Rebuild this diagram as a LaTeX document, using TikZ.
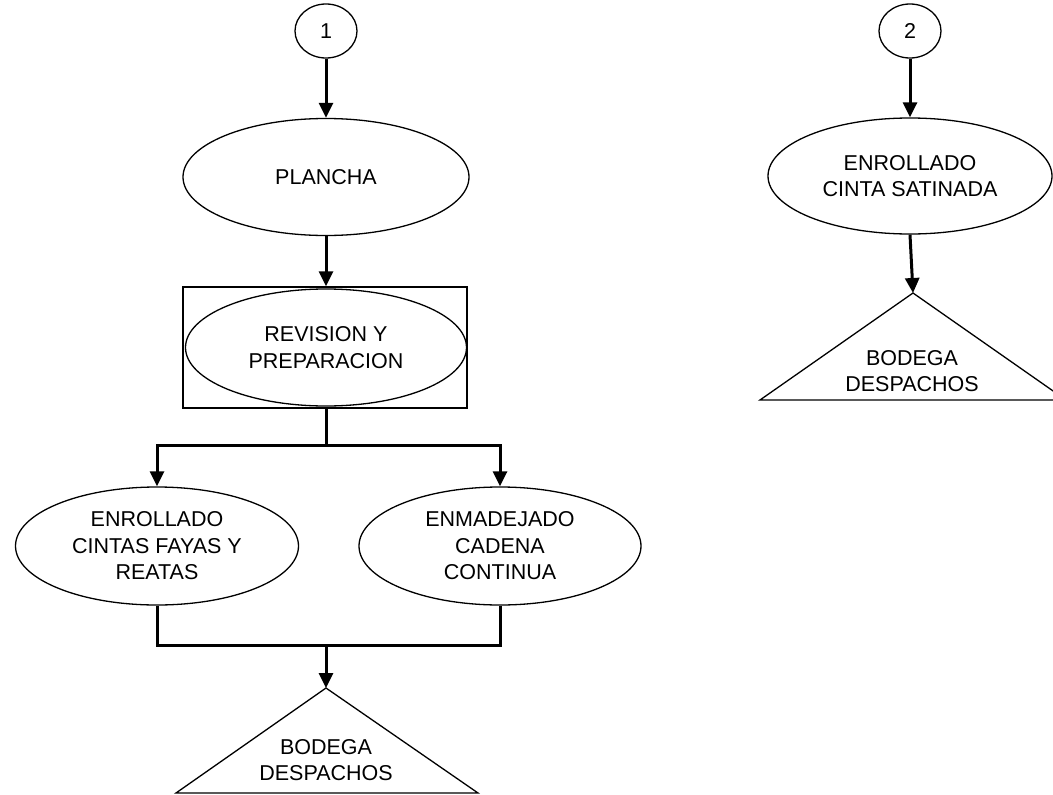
\documentclass[tikz,border=0pt]{standalone}
\usepackage{fontspec}
\setmainfont{Liberation Sans}
\usetikzlibrary{arrows.meta,shapes.geometric}
\begin{document}
\begin{tikzpicture}[x=1pt,y=-1pt,
  txt/.style={font=\fontsize{21.5}{26.5}\selectfont, align=center},
  oval/.style={draw, ellipse, line width=1.3pt, inner sep=0pt, txt},
  connector/.style={draw, ellipse, line width=1.3pt, inner sep=0pt, minimum width=62pt, minimum height=54pt, txt},
  flow/.style={line width=3pt},
  flowarrow/.style={line width=3pt, -{Triangle[length=15pt,width=14pt]}},
  outline/.style={line width=1.3pt, line join=miter}]
\useasboundingbox (0,0) rectangle (1053,795);

% ---- left branch ----
\node[connector] (c1) at (326,31) {1};
\node[oval, minimum width=286pt, minimum height=117pt] (plancha) at (326,177) {PLANCHA};
\node[draw, outline, rectangle, minimum width=284pt, minimum height=121pt, inner sep=0pt] (revbox) at (325,347.5) {};
\node[oval, minimum width=281pt, minimum height=117pt] (rev) at (326,347.5) {REVISION Y\\PREPARACION};
\node[oval, minimum width=283pt, minimum height=118pt] (enr) at (157,546) {ENROLLADO\\CINTAS FAYAS Y\\REATAS};
\node[oval, minimum width=282pt, minimum height=118pt] (enm) at (500,546) {ENMADEJADO\\CADENA\\CONTINUA};

\coordinate (split) at (326,445);
\coordinate (merge) at (326,645);
\coordinate (apex1) at (326,688);
\coordinate (base1l) at (176,793);
\coordinate (base1r) at (478,793);
\draw[outline] (apex1) -- (base1r) -- (base1l) -- cycle;
\node[txt] (bod1) at (326,760) {BODEGA\\DESPACHOS};

\draw[flowarrow] (c1.south) -- (plancha.north);
\draw[flowarrow] (plancha.south) -- (revbox.north -| plancha.south);
\draw[flow] (revbox.south -| split) -- (split);
\draw[flowarrow] ([xshift=1.5pt]split) -| (enr.north);
\draw[flowarrow] ([xshift=-1.5pt]split) -| (enm.north);
\draw[flow] (enr.south) |- ([xshift=1.5pt]merge);
\draw[flow] (enm.south) |- ([xshift=-1.5pt]merge);
\draw[flowarrow] (merge) -- (apex1);

% ---- right branch ----
\node[connector] (c2) at (910,31) {2};
\node[oval, minimum width=284pt, minimum height=116pt] (sat) at (910,176) {ENROLLADO\\CINTA SATINADA};
\coordinate (apex2) at (913,293);
\coordinate (base2l) at (760,400);
\coordinate (base2r) at (1066,400);
\draw[outline] (apex2) -- (base2r) -- (base2l) -- cycle;
\node[txt] (bod2) at (912,371) {BODEGA\\DESPACHOS};

\draw[flowarrow] (c2.south) -- (sat.north);
\draw[flowarrow] (sat.south) -- (apex2);
\end{tikzpicture}
\end{document}
